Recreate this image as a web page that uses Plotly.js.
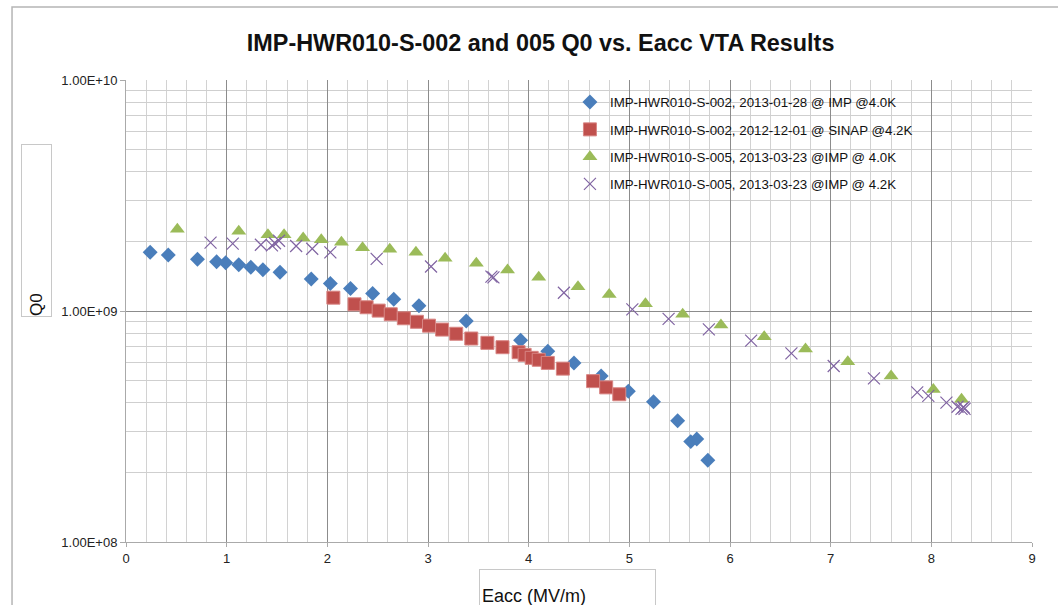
<!DOCTYPE html>
<html>
<head>
<meta charset="utf-8">
<script src="https://cdn.plot.ly/plotly-3.0.1.min.js"></script>
<style>
html,body{margin:0;padding:0;background:#fff;}
#chart{width:1058px;height:605px;}
</style>
</head>
<body>
<div id="chart"></div>
<script>
// Series names
const seriesNames = [
  "IMP-HWR010-S-002, 2013-01-28 @ IMP @4.0K",
  "IMP-HWR010-S-002, 2012-12-01 @ SINAP @4.2K",
  "IMP-HWR010-S-005, 2013-03-23 @IMP @ 4.0K",
  "IMP-HWR010-S-005, 2013-03-23 @IMP @ 4.2K"
];

// S-002 @ IMP 4.0K (blue diamonds)
const eacc002imp = [0.24,0.42,0.71,0.90,0.99,1.12,1.24,1.36,1.53,1.84,2.03,2.23,2.45,2.66,2.91,3.38,3.92,4.19,4.45,4.72,4.99,5.24,5.48,5.61,5.67,5.78];
const q0002imp   = [1.795e9,1.748e9,1.674e9,1.635e9,1.618e9,1.586e9,1.546e9,1.509e9,1.471e9,1.376e9,1.315e9,1.251e9,1.191e9,1.125e9,1.053e9,9.05e8,7.47e8,6.69e8,5.96e8,5.23e8,4.49e8,4.05e8,3.35e8,2.72e8,2.79e8,2.26e8];

// S-002 @ SINAP 4.2K (red squares)
const eacc002sinap = [2.06,2.27,2.39,2.51,2.63,2.76,2.89,3.01,3.14,3.28,3.43,3.59,3.74,3.90,3.96,4.03,4.10,4.19,4.34,4.64,4.77,4.90];
const q0002sinap   = [1.142e9,1.069e9,1.038e9,1.004e9,9.68e8,9.30e8,8.98e8,8.64e8,8.31e8,7.97e8,7.60e8,7.28e8,6.97e8,6.63e8,6.46e8,6.27e8,6.15e8,5.96e8,5.63e8,4.97e8,4.67e8,4.36e8];

// S-005 @ IMP 4.0K (green triangles)
const eacc005imp40 = [0.51,1.12,1.41,1.57,1.76,1.94,2.14,2.35,2.62,2.88,3.17,3.48,3.79,4.10,4.49,4.80,5.16,5.53,5.91,6.34,6.75,7.17,7.60,8.02,8.30];
const q0005imp40   = [2.258e9,2.213e9,2.139e9,2.139e9,2.070e9,2.036e9,1.983e9,1.879e9,1.850e9,1.795e9,1.691e9,1.609e9,1.505e9,1.399e9,1.274e9,1.179e9,1.076e9,9.69e8,8.70e8,7.74e8,6.85e8,6.03e8,5.23e8,4.57e8,4.15e8];

// S-005 @ IMP 4.2K (purple crosses)
const eacc005imp42 = [0.84,1.06,1.34,1.45,1.48,1.52,1.69,1.85,2.03,2.49,3.03,3.63,3.65,4.35,5.03,5.39,5.79,6.21,6.61,7.03,7.43,7.86,7.97,8.15,8.26,8.30,8.32,8.33];
const q0005imp42   = [1.976e9,1.956e9,1.936e9,1.925e9,1.964e9,2.015e9,1.911e9,1.860e9,1.795e9,1.680e9,1.558e9,1.408e9,1.399e9,1.200e9,1.017e9,9.24e8,8.33e8,7.44e8,6.56e8,5.78e8,5.11e8,4.44e8,4.29e8,4.01e8,3.85e8,3.77e8,3.83e8,3.77e8];

// Axis ticks
const xTickVals = [0,1,2,3,4,5,6,7,8,9];
const yTickVals = [1e8,1e9,1e10];
const yTickText = ["1.00E+08","1.00E+09","1.00E+10"];

const FONT = "Liberation Sans, Arial, sans-serif";

const traces = [
  {x: eacc002imp, y: q0002imp, name: seriesNames[0], legendgroup:"a",
   mode:"markers", type:"scatter",
   marker:{symbol:"diamond", size:11.5, color:"#4A7EBB"}},
  {x: eacc002sinap, y: q0002sinap, name: seriesNames[1], legendgroup:"b",
   mode:"markers", type:"scatter",
   marker:{symbol:"square", size:13, color:"#C0504D", line:{color:"#D88684", width:1}}},
  {x: eacc005imp40, y: q0005imp40, name: seriesNames[2], legendgroup:"c",
   mode:"markers", type:"scatter",
   marker:{symbol:"triangle-up", size:13, color:"#9BBB59"}},
  {x: eacc005imp42, y: q0005imp42, name: seriesNames[3], legendgroup:"d",
   mode:"markers", type:"scatter",
   marker:{symbol:"x-thin-open", size:12, color:"#8064A2", line:{color:"#8064A2", width:1.2}}}
];

const layout = {
  width:1058, height:605,
  margin:{l:126, r:26, t:80, b:63},
  paper_bgcolor:"#fff", plot_bgcolor:"#fff",
  font:{family:FONT, color:"#222"},
  title:{text:"<b>IMP-HWR010-S-002 and 005 Q0 vs. Eacc VTA Results</b>",
         font:{family:FONT, size:23.4, color:"#111"},
         x:0.511, xref:"container", xanchor:"center",
         y:0.93, yref:"container", yanchor:"middle"},
  showlegend:true,
  legend:{x:0.49, y:0.985, xanchor:"left", yanchor:"top",
          bgcolor:"rgba(0,0,0,0)", font:{family:FONT, size:13.3, color:"#111"},
          tracegroupgap:7, traceorder:"grouped", itemwidth:30},
  xaxis:{range:[0,9], tickvals:xTickVals, ticktext:xTickVals.map(String),
         showgrid:true, gridcolor:"#8c8c8c", gridwidth:1,
         minor:{dtick:0.2, showgrid:true, gridcolor:"#d2d2d2", gridwidth:1, ticks:""},
         showline:true, linecolor:"#aaa", linewidth:1, mirror:false,
         ticks:"outside", ticklen:4, tickcolor:"#aaa",
         tickfont:{family:FONT, size:13, color:"#222"}, zeroline:false},
  yaxis:{type:"log", range:[8,10], tickvals:yTickVals, ticktext:yTickText,
         showgrid:true, gridcolor:"#8c8c8c", gridwidth:1,
         minor:{dtick:"D1", showgrid:true, gridcolor:"#cfcfcf", gridwidth:1, ticks:""},
         showline:true, linecolor:"#aaa", linewidth:1,
         ticks:"outside", ticklen:5, tickcolor:"#aaa",
         tickfont:{family:FONT, size:13, color:"#222"}, zeroline:false},
  shapes:[
    {type:"rect", xref:"paper", yref:"paper", x0:-0.1258, x1:1.2, y0:-0.3, y1:1.158,
     line:{color:"#b5b5b5", width:1.5}, fillcolor:"rgba(0,0,0,0)", layer:"below"}
  ],
  annotations:[
    {text:"Q0", textangle:-90, xref:"paper", yref:"paper",
     x:(36.5-126)/906, y:1-(230.5-80)/462, xanchor:"center", yanchor:"middle",
     width:171, height:29, align:"left", valign:"middle",
     bordercolor:"#c8c8c8", borderwidth:1, borderpad:0, bgcolor:"#fff",
     showarrow:false, font:{family:FONT, size:17, color:"#111"}},
    {text:"Eacc (MV/m)", xref:"paper", yref:"paper",
     x:(567.5-126)/906, y:1-(589-80)/462, xanchor:"center", yanchor:"middle",
     width:171, height:34, align:"left", valign:"bottom",
     bordercolor:"#c8c8c8", borderwidth:1, borderpad:2, bgcolor:"#fff",
     showarrow:false, font:{family:FONT, size:18, color:"#111"}}
  ]
};

Plotly.newPlot("chart", traces, layout, {displayModeBar:false, staticPlot:true});
</script>
</body>
</html>
